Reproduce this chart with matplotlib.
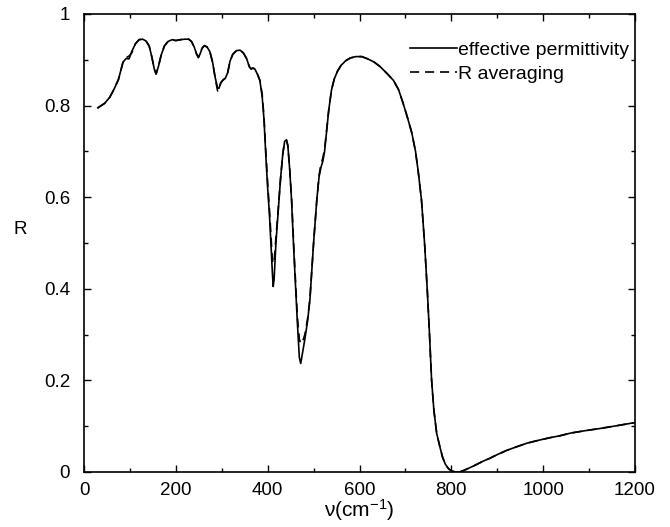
import numpy as np
import matplotlib.pyplot as plt
from matplotlib.ticker import MultipleLocator

plt.rcParams['font.family'] = ['Liberation Sans', 'DejaVu Sans']
plt.rcParams['mathtext.fontset'] = 'custom'
plt.rcParams['mathtext.rm'] = 'Liberation Sans'
plt.rcParams['mathtext.it'] = 'Liberation Sans:italic'

# wavenumber (cm^-1) and reflectance
wavenumber = [30, 45, 56, 65, 75, 85, 92, 98, 104, 112, 120, 128, 135, 142, 148, 153,
              157, 162, 168, 175, 183, 192, 200, 210, 220, 228, 234, 240, 245, 249,
              253, 257, 262, 268, 274, 280, 286, 291, 294, 298, 303, 308, 313, 318,
              324, 332, 340, 347, 354, 360, 364, 368, 372, 378, 383, 388, 392, 396,
              400, 404, 407, 410, 412, 414, 418, 423, 428, 433, 437, 441, 444, 448,
              452, 457, 461, 465, 469, 472, 476, 481, 487, 492, 500, 507, 512, 516,
              520, 524, 528, 533, 539, 545, 552, 560, 570, 580, 592, 605, 618, 632,
              645, 660, 674, 685, 695, 705, 714, 722, 728, 735, 742, 748, 752, 757,
              762, 768, 775, 781, 787, 794, 801, 810, 818, 826, 833, 850, 870, 884,
              900, 920, 942, 965, 993, 1020, 1036, 1060, 1090, 1124, 1160, 1200]

r_eff = [0.795, 0.805, 0.818, 0.835, 0.857, 0.895, 0.903, 0.902, 0.918, 0.935, 0.944,
         0.945, 0.941, 0.930, 0.905, 0.880, 0.869, 0.885, 0.910, 0.930, 0.940, 0.944,
         0.942, 0.944, 0.945, 0.945, 0.940, 0.928, 0.913, 0.905, 0.913, 0.925, 0.931,
         0.928, 0.918, 0.895, 0.860, 0.838, 0.838, 0.850, 0.856, 0.860, 0.872, 0.897,
         0.912, 0.920, 0.921, 0.915, 0.903, 0.885, 0.880, 0.882, 0.880, 0.868, 0.855,
         0.820, 0.770, 0.690, 0.620, 0.560, 0.500, 0.440, 0.405, 0.420, 0.500, 0.570,
         0.640, 0.695, 0.722, 0.725, 0.712, 0.660, 0.594, 0.480, 0.400, 0.320, 0.250,
         0.237, 0.260, 0.290, 0.330, 0.376, 0.500, 0.594, 0.645, 0.665, 0.678, 0.700,
         0.740, 0.790, 0.834, 0.858, 0.875, 0.888, 0.898, 0.904, 0.907, 0.907, 0.902,
         0.895, 0.885, 0.870, 0.855, 0.835, 0.805, 0.772, 0.740, 0.700, 0.655, 0.594,
         0.495, 0.390, 0.310, 0.201, 0.135, 0.085, 0.055, 0.032, 0.017, 0.007, 0.002,
         0.000, 0.000, 0.003, 0.006, 0.014, 0.024, 0.030, 0.038, 0.047, 0.055, 0.063,
         0.070, 0.076, 0.079, 0.085, 0.090, 0.095, 0.101, 0.108]

r_avg = [0.795, 0.805, 0.818, 0.835, 0.857, 0.895, 0.905, 0.908, 0.915, 0.935, 0.944,
         0.945, 0.941, 0.930, 0.905, 0.880, 0.869, 0.885, 0.910, 0.930, 0.940, 0.944,
         0.942, 0.944, 0.945, 0.945, 0.940, 0.928, 0.913, 0.905, 0.913, 0.925, 0.931,
         0.928, 0.918, 0.895, 0.858, 0.832, 0.836, 0.850, 0.856, 0.860, 0.872, 0.897,
         0.912, 0.920, 0.921, 0.915, 0.903, 0.885, 0.880, 0.882, 0.880, 0.868, 0.855,
         0.825, 0.775, 0.700, 0.630, 0.570, 0.520, 0.465, 0.455, 0.460, 0.510, 0.575,
         0.640, 0.695, 0.722, 0.725, 0.712, 0.662, 0.600, 0.490, 0.410, 0.335, 0.290,
         0.280, 0.285, 0.300, 0.335, 0.378, 0.500, 0.594, 0.648, 0.672, 0.685, 0.705,
         0.742, 0.790, 0.834, 0.858, 0.875, 0.888, 0.898, 0.904, 0.907, 0.907, 0.902,
         0.895, 0.885, 0.870, 0.855, 0.835, 0.805, 0.772, 0.740, 0.700, 0.655, 0.594,
         0.495, 0.390, 0.310, 0.201, 0.135, 0.085, 0.055, 0.032, 0.017, 0.007, 0.002,
         0.000, 0.000, 0.003, 0.006, 0.014, 0.024, 0.030, 0.038, 0.047, 0.055, 0.063,
         0.070, 0.076, 0.079, 0.085, 0.090, 0.095, 0.101, 0.108]

ytick_vals = [0, 0.2, 0.4, 0.6, 0.8, 1.0]
ytick_labels = ['0', '0.2', '0.4', '0.6', '0.8', '1']

fig = plt.figure(figsize=(6.7, 5.27), dpi=100)
ax = fig.add_axes([84 / 670, 55 / 527, 551 / 670, 458 / 527])

ax.plot(wavenumber, r_eff, color='black', lw=1.2, label='effective permittivity')
ax.plot(wavenumber, r_avg, color='black', lw=1.2, ls=(0, (5.5, 3.5)), label='R averaging')

ax.set_xlim(0, 1200)
ax.set_ylim(0, 1)
ax.xaxis.set_major_locator(MultipleLocator(200))
ax.xaxis.set_minor_locator(MultipleLocator(100))
ax.set_yticks(ytick_vals)
ax.set_yticklabels(ytick_labels)
ax.yaxis.set_minor_locator(MultipleLocator(0.1))
ax.tick_params(which='both', direction='in', top=True, right=True, labelsize=13.5)
ax.tick_params(which='major', length=5, width=1)
ax.tick_params(which='minor', length=3, width=1)
ax.tick_params(axis='y', pad=10)
ax.tick_params(axis='x', pad=7)
for sp in ax.spines.values():
    sp.set_linewidth(1.2)

ax.set_xlabel(r'ν(cm$^{-1}$)', fontsize=15, labelpad=-1)
ax.set_ylabel('R', fontsize=13.5, rotation=0)
ax.yaxis.set_label_coords(-0.115, 0.51)

ax.legend(loc='upper right', bbox_to_anchor=(0.99, 0.94), frameon=False, fontsize=14,
          handlelength=2.4, handletextpad=0.1, borderpad=0, borderaxespad=0,
          labelspacing=0.3)

fig.savefig('out.png', dpi=100, facecolor='white')
